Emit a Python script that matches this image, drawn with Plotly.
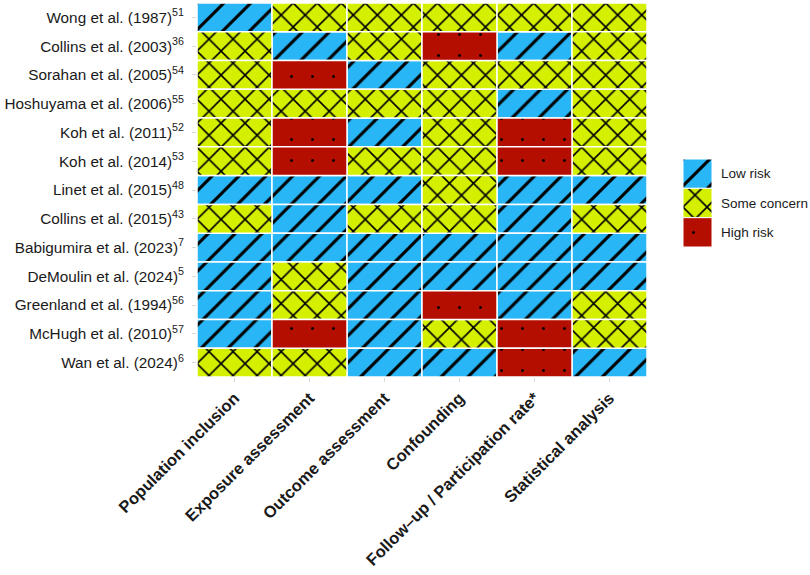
import plotly.graph_objects as go

# ---------------- data ----------------
studies = [
    "Wong et al. (1987)<sup>51</sup>",
    "Collins et al. (2003)<sup>36</sup>",
    "Sorahan et al. (2005)<sup>54</sup>",
    "Hoshuyama et al. (2006)<sup>55</sup>",
    "Koh et al. (2011)<sup>52</sup>",
    "Koh et al. (2014)<sup>53</sup>",
    "Linet et al. (2015)<sup>48</sup>",
    "Collins et al. (2015)<sup>43</sup>",
    "Babigumira et al. (2023)<sup>7</sup>",
    "DeMoulin et al. (2024)<sup>5</sup>",
    "Greenland et al. (1994)<sup>56</sup>",
    "McHugh et al. (2010)<sup>57</sup>",
    "Wan et al. (2024)<sup>6</sup>",
]

domains = [
    "Population inclusion",
    "Exposure assessment",
    "Outcome assessment",
    "Confounding",
    "Follow\u2013up / Participation rate*",
    "Statistical analysis",
]

L, S, H = "Low risk", "Some concern", "High risk"

population_inclusion = [L, S, S, S, S, S, L, S, L, L, L, L, S]
exposure_assessment = [S, L, H, S, H, H, L, L, L, S, S, H, S]
outcome_assessment = [S, S, L, S, L, S, L, S, L, L, L, L, L]
confounding = [S, H, S, S, S, S, S, S, L, L, H, S, L]
follow_up = [S, L, S, L, H, H, L, L, L, L, L, H, H]
statistical_analysis = [S, S, S, S, S, S, L, S, L, L, S, S, L]

judgement_columns = [population_inclusion, exposure_assessment, outcome_assessment,
                     confounding, follow_up, statistical_analysis]

levels = [L, S, H]

# ---------------- styles ----------------
fill = {L: "#29B6F6", S: "#D4F000", H: "#B40E00"}
pattern_shape = {L: "/", S: "x", H: "."}
pattern_size = {L: 19, S: 17, H: 21}
pattern_solid = {L: 0.16, S: 0.18, H: 0.016}

FONT = "Liberation Sans, Arial, Helvetica, sans-serif"

n_rows = len(studies)
fig = go.Figure()


def bar_marker(lvl, lw):
    return dict(
        color=fill[lvl],
        line=dict(color="white", width=lw),
        pattern=dict(shape=pattern_shape[lvl], fgcolor="black",
                     bgcolor=fill[lvl], size=pattern_size[lvl],
                     solidity=pattern_solid[lvl], fillmode="replace"),
    )


for lvl in levels:
    xs, bases = [], []
    for d, col in zip(domains, judgement_columns):
        for i, v in enumerate(col):
            if v == lvl:
                xs.append(d)
                bases.append(n_rows - i - 0.5)
    fig.add_trace(go.Bar(
        x=xs, y=[1] * len(xs), base=bases, width=1,
        name=lvl, showlegend=False, hoverinfo="skip",
        marker=bar_marker(lvl, 1.5),
        xaxis="x", yaxis="y",
    ))

# legend drawn as a tiny bar subplot
for k, lvl in enumerate(levels):
    fig.add_trace(go.Bar(
        x=["key"], y=[1], base=[len(levels) - 1 - k], width=1,
        name=lvl, showlegend=False, hoverinfo="skip",
        marker=bar_marker(lvl, 1),
        xaxis="x2", yaxis="y2",
    ))

W, Hh = 810, 575
ml, mt, mb, mr = 197, 3, 198, 0
pw = W - ml - mr
ph = Hh - mt - mb

fig.update_layout(
    width=W, height=Hh,
    margin=dict(l=ml, r=mr, t=mt, b=mb, autoexpand=False),
    paper_bgcolor="white", plot_bgcolor="white",
    barmode="overlay",
    font=dict(family=FONT, color="#1a1a1a"),
    xaxis=dict(
        domain=[0, 450 / pw],
        categoryorder="array", categoryarray=domains,
        range=[-0.5, len(domains) - 0.5],
        tickangle=-45, tickfont=dict(size=16.5, color="#1a1a1a", weight="bold"),
        ticks="outside", ticklen=4, tickcolor="#d9d9d9", tickwidth=1,
        showgrid=False, zeroline=False, showline=False, automargin=False,
    ),
    yaxis=dict(
        range=[0.5, n_rows + 0.5],
        tickvals=[n_rows - i for i in range(n_rows)], ticktext=studies,
        tickfont=dict(size=15.3, color="#1a1a1a"),
        ticks="outside", ticklen=4, tickcolor="#d9d9d9", tickwidth=1,
        ticklabelstandoff=5,
        showgrid=False, zeroline=False, showline=False, automargin=False,
    ),
    xaxis2=dict(
        domain=[(683 - ml) / pw, (712 - ml) / pw], anchor="y2",
        range=[-0.5, 0.5], showticklabels=False, showgrid=False,
        zeroline=False, showline=False, ticks="", automargin=False,
    ),
    yaxis2=dict(
        domain=[(377 - 247) / ph, (377 - 159) / ph], anchor="x2",
        range=[0, len(levels)], side="right",
        tickvals=[len(levels) - 1 - k + 0.5 for k in range(len(levels))],
        ticktext=levels, tickfont=dict(size=13.5, color="#1a1a1a"),
        ticks="", ticklabelstandoff=8, automargin=False,
        showgrid=False, zeroline=False, showline=False,
    ),
)

fig.write_html(
    "out.html",
    config={"displayModeBar": False},
    post_script="document.body.style.margin='0';document.body.style.overflow='hidden';",
)
